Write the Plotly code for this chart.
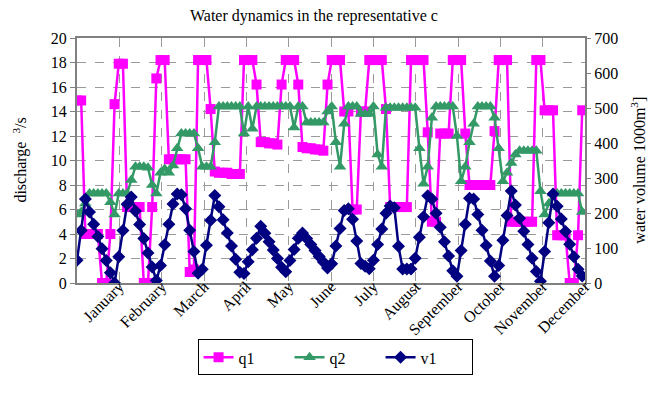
import plotly.graph_objects as go

days = list(range(0, 366, 3))

q1 = [14.9, 14.9, 4.0, 4.0, 4.0, 4.0, 0, 0, 4.0, 14.6,
      17.9, 17.9, 6.2, 6.2, 6.2, 6.2, 0, 0, 6.2, 16.7,
      18.2, 18.2, 10.1, 10.1, 10.1, 10.1, 10.1, 0.9, 1.1, 18.2,
      18.2, 18.2, 14.2, 9.1, 9.0, 9.0, 9.0, 8.9, 8.9, 8.9,
      18.2, 18.2, 18.2, 16.2, 11.5, 11.5, 11.4, 11.4, 11.3, 16.2,
      18.2, 18.2, 18.2, 16.2, 11.1, 11.0, 11.0, 10.9, 10.9, 10.8,
      16.2, 18.2, 18.2, 18.2, 14.0, 14.0, 6.0, 6.0, 14.0, 14.0,
      18.2, 18.2, 18.2, 18.2, 14.2, 6.2, 6.2, 6.2, 6.2, 6.2,
      18.2, 18.2, 18.2, 18.2, 12.3, 5.0, 5.0, 12.2, 12.2, 12.2,
      18.2, 18.2, 18.2, 12.2, 8.0, 8.0, 8.0, 8.0, 8.0, 8.0,
      12.4, 18.2, 18.2, 18.2, 5.0, 5.0, 5.0, 5.0, 5.0, 5.0,
      18.2, 18.2, 14.1, 14.1, 14.1, 3.9, 3.9, 3.9, 0, 0, 3.9, 14.1]

q2 = [5.6, 5.8, 6.5, 7.3, 7.3, 7.3, 7.3, 7.3, 6.6, 5.6,
      7.3, 7.3, 7.3, 8.4, 9.5, 9.5, 9.5, 9.4, 8.0, 7.3,
      9.0, 9.3, 9.0, 9.6, 11.0, 12.2, 12.2, 12.2, 12.2, 11.0,
      9.5, 9.5, 9.5, 11.5, 14.4, 14.4, 14.4, 14.4, 14.4, 14.4,
      12.2, 14.4, 12.6, 14.4, 14.4, 14.4, 14.4, 14.4, 14.4, 14.4,
      14.4, 14.4, 12.7, 14.4, 14.4, 13.1, 13.1, 13.1, 13.1, 13.1,
      14.0, 14.4, 11.5, 9.5, 13.0, 14.4, 14.4, 14.4, 13.8, 13.8,
      13.8, 14.4, 10.5, 9.5, 14.3, 14.3, 14.3, 14.3, 14.3, 14.3,
      14.3, 14.3, 11.0, 8.1, 9.5, 13.5, 14.4, 14.4, 14.4, 14.4,
      14.4, 12.0, 8.3, 9.5, 11.5, 13.0, 14.4, 14.4, 14.4, 14.4,
      13.5, 11.0, 8.3, 9.0, 9.8, 10.5, 10.8, 10.8, 10.8, 10.8,
      10.8, 7.5, 5.6, 6.5, 7.3, 7.3, 7.3, 7.3, 7.3, 7.3, 7.3, 5.8]

v1 = [65, 150, 240, 203, 168, 133, 98, 64, 29, 0,
      75, 150, 225, 246, 206, 167, 127, 86, 46, 7,
      50, 109, 168, 226, 254, 252, 212, 151, 90, 28,
      39, 108, 179, 250, 218, 181, 143, 106, 68, 31,
      27, 61, 95, 128, 162, 142, 118, 94, 70, 45,
      32, 64, 96, 128, 143, 127, 110, 93, 76, 60,
      43, 55, 106, 156, 207, 212, 182, 120, 56, 48,
      41, 65, 110, 154, 199, 220, 215, 105, 40, 40,
      40, 71, 131, 189, 249, 240, 199, 159, 118, 77,
      35, 19, 93, 168, 242, 240, 196, 151, 107, 63,
      19, 50, 122, 193, 263, 223, 185, 148, 110, 71,
      33, 5, 90, 172, 254, 219, 183, 147, 111, 75, 39, 20]

months = ["January", "February", "March", "April", "May", "June", "July",
          "August", "September", "October", "November", "December"]
month_ends = [365 * (k + 1) / 12 for k in range(12)]

FONT = "'Liberation Serif', 'Times New Roman', Times, serif"

fig = go.Figure()
fig.add_trace(go.Scatter(x=days, y=q1, name="q1", mode="lines+markers",
                         line=dict(color="#FF00FF", width=2.5),
                         marker=dict(symbol="square", size=10, color="#FF00FF")))
fig.add_trace(go.Scatter(x=days, y=q2, name="q2", mode="lines+markers",
                         line=dict(color="#339966", width=2.5),
                         marker=dict(symbol="triangle-up", size=11, color="#339966")))
fig.add_trace(go.Scatter(x=days, y=v1, name="v1", mode="lines+markers", yaxis="y2",
                         line=dict(color="#000080", width=2.5),
                         marker=dict(symbol="diamond", size=10, color="#000080")))

fig.update_layout(
    width=651, height=389,
    margin=dict(l=69, r=74, t=30, b=114, autoexpand=False),
    paper_bgcolor="white", plot_bgcolor="white",
    font=dict(family=FONT, size=16, color="black"),
    title=dict(text="Water dynamics in the representative c", x=0.47, xanchor="center",
               y=0.982, yanchor="middle", font=dict(family=FONT, size=16, color="black")),
    xaxis=dict(range=[0, 365], tickvals=month_ends, ticktext=months, tickangle=-45,
               automargin=False, ticklabelstandoff=-19,
               showgrid=True, gridcolor="#9a9a9a", griddash="dash", gridwidth=1,
               showline=True, linecolor="#808080", linewidth=2, mirror=True,
               ticks="outside", ticklen=5, tickcolor="#808080", zeroline=False,
               tickfont=dict(family=FONT, size=16)),
    yaxis=dict(range=[0, 20], dtick=2, showgrid=True, gridcolor="#9a9a9a", griddash="dash",
               automargin=False,
               showline=True, linecolor="#808080", linewidth=2, mirror=True,
               ticks="outside", ticklen=5, tickcolor="#808080", zeroline=False,
               tickfont=dict(family=FONT, size=16)),
    yaxis2=dict(range=[0, 700], dtick=100, overlaying="y", side="right", showgrid=False,
                automargin=False,
                ticks="outside", ticklen=5, tickcolor="#808080", zeroline=False,
                tickfont=dict(family=FONT, size=16)),
    legend=dict(orientation="h", x=0.508, xanchor="center", y=-0.23, yanchor="top",
                bordercolor="black", borderwidth=1, bgcolor="white",
                entrywidth=46, entrywidthmode="pixels",
                font=dict(family=FONT, size=16)),
    showlegend=True,
    annotations=[
        dict(text="discharge  <sup>3</sup>/s", xref="paper", yref="paper", x=-0.112, y=0.5,
             textangle=-90, showarrow=False, xanchor="center", yanchor="middle",
             font=dict(family=FONT, size=16, color="black")),
        dict(text="water volume 1000m<sup>3</sup>]", xref="paper", yref="paper", x=1.105, y=0.46,
             textangle=-90, showarrow=False, xanchor="center", yanchor="middle",
             font=dict(family=FONT, size=16, color="black")),
    ],
)

fig.write_html("out.html")
